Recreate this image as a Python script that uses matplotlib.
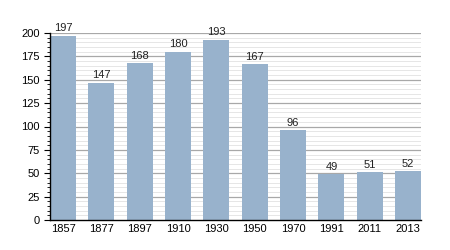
import matplotlib
matplotlib.use("Agg")
import matplotlib.pyplot as plt
import numpy as np

years = ["1857", "1877", "1897", "1910", "1930", "1950", "1970", "1991", "2011", "2013"]
values = [197, 147, 168, 180, 193, 167, 96, 49, 51, 52]

plt.rcParams['font.family'] = ['Liberation Sans', 'DejaVu Sans']

fig = plt.figure(figsize=(4.5, 2.5), dpi=100)
ax = fig.add_axes([0.111, 0.12, 0.825, 0.748])

x = np.arange(len(years))
w = 0.68
for v in range(5, 201, 5):
    if v % 25 == 0:
        ax.axhline(v, color="#a8a8a8", lw=0.9, zorder=0)
    else:
        ax.axhline(v, color="#e6e6e6", lw=0.7, zorder=0)

ax.bar(x, values, width=w, color="#98b2cc", zorder=2)
for xi, v in zip(x, values):
    ax.text(xi, v + 2.5, str(v), ha="center", va="bottom", fontsize=8, color="#222222")

ax.set_xlim(-w / 2, len(years) - 1 + w / 2)
ax.set_ylim(0, 200)
ax.set_xticks(x)
ax.set_xticklabels(years, fontsize=8)
ax.set_yticks(range(0, 201, 25))
ax.set_yticks(range(0, 201, 5), minor=True)
ax.tick_params(axis="y", which="major", labelsize=8, length=4, width=0.8, direction="out")
ax.tick_params(axis="y", which="minor", length=2, width=0.6, direction="out")
ax.tick_params(axis="x", length=0, pad=3)
for s in ["top", "right"]:
    ax.spines[s].set_visible(False)
ax.spines["left"].set_linewidth(1.0)
ax.spines["bottom"].set_linewidth(1.0)

fig.savefig("out.png", dpi=100)
